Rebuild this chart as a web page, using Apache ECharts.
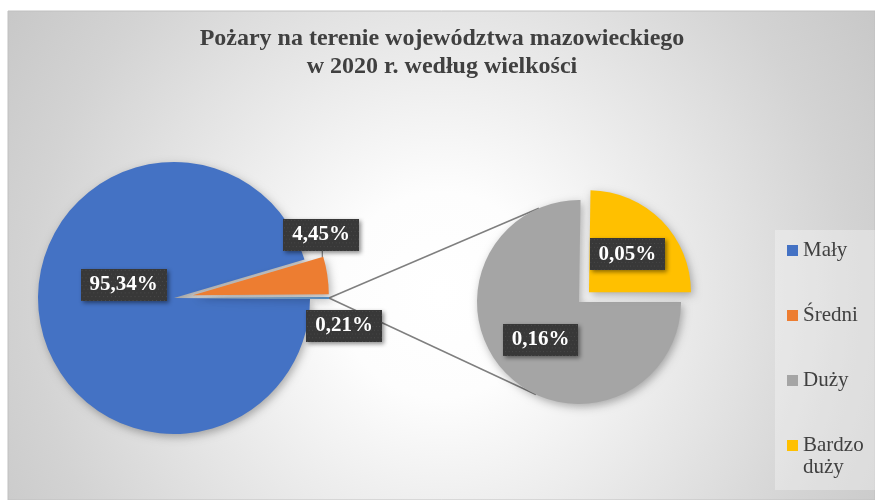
<!DOCTYPE html>
<html>
<head>
<meta charset="utf-8">
<script src="https://cdn.jsdelivr.net/npm/echarts@6/dist/echarts.min.js"></script>
<style>
  html, body { margin: 0; background: #fff; }
  #chart { width: 875px; height: 500px; }
</style>
</head>
<body>
<div id="chart"></div>
<script>
// dane (procent pożarów wg wielkości)
const legendNames = ['Mały', 'Średni', 'Duży', 'Bardzo duży'];
const mainNames = ['Inne', 'Średni', 'Mały'];
const mainValues = [0.21, 4.45, 95.34];
const subNames = ['Bardzo duży', 'Duży'];
const subValues = [0.052, 0.158];

const colors = {
    'Mały': '#4472c4',
    'Średni': '#ed7d31',
    'Inne': '#5b9bd5',
    'Duży': '#a5a5a5',
    'Bardzo duży': '#ffc000'
};

const mainCenter = [174, 298], mainRadius = 136, mainExplode = 19;
const subCenter = [579, 302], subRadius = 102, subExplode = 14;
const mainStart = -mainValues[0] / 100 * 180;

const fmt = p => p.value.toFixed(2).replace('.', ',') + '%';

// ciemne tło etykiet w drobne kropki
const dots = document.createElement('canvas');
dots.width = 88; dots.height = 34;
const dctx = dots.getContext('2d');
dctx.fillStyle = '#383838';
dctx.fillRect(0, 0, dots.width, dots.height);
dctx.fillStyle = '#4c4c4c';
for (let y = 1; y < dots.height; y += 4) {
    for (let x = (y % 8 === 1 ? 1 : 3); x < dots.width; x += 4) {
        dctx.fillRect(x, y, 1, 1);
    }
}

const labelBox = {
    show: true,
    position: 'inside',
    formatter: fmt,
    fontFamily: 'Liberation Serif',
    fontWeight: 'bold',
    fontSize: 21,
    color: '#fff',
    backgroundColor: { image: dots },
    padding: [6, 9, 5, 9],
    shadowColor: 'rgba(0,0,0,0.45)',
    shadowBlur: 4,
    shadowOffsetX: 2,
    shadowOffsetY: 2
};

const pieShadow = {
    shadowColor: 'rgba(0,0,0,0.3)',
    shadowBlur: 8,
    shadowOffsetX: 2,
    shadowOffsetY: 3
};

// linie łączące oba wykresy (styczne do drugiego koła)
const P = [mainCenter[0] + mainRadius + mainExplode, mainCenter[1]];
const ddx = subCenter[0] - P[0], ddy = subCenter[1] - P[1];
const dist = Math.hypot(ddx, ddy);
const base = Math.atan2(ddy, ddx);
const half = Math.asin(subRadius / dist);
const tlen = Math.sqrt(dist * dist - subRadius * subRadius);
const connectors = [base - half, base + half].map(a => ({
    type: 'line',
    z: 1,
    shape: { x1: P[0], y1: P[1], x2: P[0] + tlen * Math.cos(a), y2: P[1] + tlen * Math.sin(a) },
    style: { stroke: '#7f7f7f', lineWidth: 1.5 }
}));

// krótka linia odniesienia etykiety "Średni" (z górnego rogu wycinka)
const total = mainValues.reduce((a, b) => a + b, 0);
const a1 = (mainStart + mainValues[0] / total * 360) * Math.PI / 180;
const a2 = a1 + mainValues[1] / total * 360 * Math.PI / 180;
const am = (a1 + a2) / 2;
const sc = [mainCenter[0] + mainExplode * Math.cos(am), mainCenter[1] - mainExplode * Math.sin(am)];
const corner = [sc[0] + (mainRadius - 1) * Math.cos(a2), sc[1] - (mainRadius - 1) * Math.sin(a2)];
const leader = {
    type: 'line',
    z: 1,
    shape: { x1: corner[0], y1: corner[1], x2: corner[0], y2: corner[1] - 8 },
    style: { stroke: '#7f7f7f', lineWidth: 1.2 }
};

const labelShift = {
    'Mały': [20, -23],
    'Średni': [58, -50],
    'Inne': [80, 28]
};

const myChart = echarts.init(document.getElementById('chart'));
const option = {
    animation: false,
    title: {
        text: 'Pożary na terenie województwa mazowieckiego\nw 2020 r. według wielkości',
        left: 442,
        textAlign: 'center',
        top: 25,
        padding: 0,
        textStyle: {
            fontFamily: 'Liberation Serif',
            fontWeight: 'bold',
            fontSize: 24,
            lineHeight: 28,
            color: '#404040'
        }
    },
    graphic: [
        {
            type: 'rect',
            z: -10,
            shape: { x: 8, y: 11, width: 867, height: 489 },
            style: {
                fill: {
                    type: 'radial', x: 0.5, y: 0.58, r: 1.05,
                    colorStops: [
                        { offset: 0, color: '#ffffff' },
                        { offset: 0.2, color: '#fdfdfd' },
                        { offset: 0.5, color: '#e8e8e8' },
                        { offset: 0.8, color: '#d3d3d3' },
                        { offset: 1, color: '#c8c8c8' }
                    ]
                },
                stroke: '#c0c0c0',
                lineWidth: 1
            }
        },
        {
            type: 'rect',
            z: -5,
            shape: { x: 775, y: 230, width: 100, height: 260 },
            style: { fill: 'rgba(255,255,255,0.3)' }
        },
        leader
    ].concat(connectors),
    legend: [
        {
            orient: 'vertical',
            left: 787,
            top: 239.5,
            padding: 0,
            itemWidth: 11,
            itemHeight: 11,
            itemGap: 43,
            icon: 'rect',
            textStyle: { fontFamily: 'Liberation Serif', fontSize: 21, lineHeight: 22, color: '#404040' },
            data: legendNames.slice(0, 3)
        },
        {
            // kwadrat przy pierwszej linii dwuwierszowego opisu
            orient: 'vertical',
            left: 787,
            top: 434.5,
            padding: 0,
            itemWidth: 11,
            itemHeight: 33,
            icon: 'path://M0,0h11v11h-11zM0,33L0,33',
            textStyle: { fontFamily: 'Liberation Serif', fontSize: 21, lineHeight: 22, color: '#404040' },
            formatter: name => name.replace(' ', '\n'),
            data: legendNames.slice(3)
        }
    ],
    series: [
        {
            type: 'pie',
            center: mainCenter,
            radius: mainRadius,
            startAngle: mainStart,
            clockwise: false,
            avoidLabelOverlap: false,
            selectedMode: 'multiple',
            selectedOffset: mainExplode,
            itemStyle: pieShadow,
            label: labelBox,
            labelLine: { show: false },
            labelLayout: p => {
                const s = labelShift[mainNames[p.dataIndex]];
                return { dx: s[0], dy: s[1] };
            },
            data: mainNames.map((n, i) => ({
                name: n,
                value: mainValues[i],
                selected: n !== 'Mały',
                itemStyle: { color: colors[n] }
            }))
        },
        {
            type: 'pie',
            center: subCenter,
            radius: subRadius,
            startAngle: 0,
            clockwise: false,
            avoidLabelOverlap: false,
            selectedMode: 'multiple',
            selectedOffset: subExplode,
            itemStyle: pieShadow,
            label: labelBox,
            labelLine: { show: false },
            data: subNames.map((n, i) => ({
                name: n,
                value: subValues[i],
                selected: n === 'Bardzo duży',
                itemStyle: { color: colors[n] }
            }))
        }
    ]
};
myChart.setOption(option);
</script>
</body>
</html>
